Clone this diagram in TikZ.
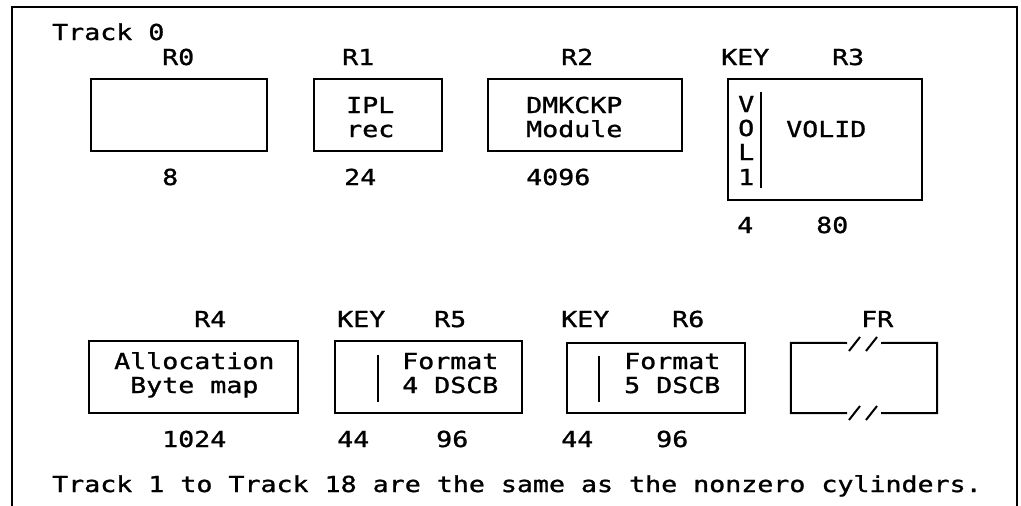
\documentclass[tikz,border=0pt]{standalone}
\usepackage{fontspec}
\newfontfamily\ibm[FakeStretch=1.21,FakeBold=1.2]{DejaVu Sans Mono}
\begin{document}
\begin{tikzpicture}[x=1pt,y=-1pt,
  txt/.style={font=\ibm\fontsize{22}{24.5}\selectfont, inner sep=0pt, anchor=base west},
  rec/.style={draw, line width=2pt, inner sep=0pt},
  frame/.style={line width=2.2pt},
  sep/.style={line width=2pt}]
\useasboundingbox (0,0) rectangle (1021,506);
% outer frame (open at bottom)
\coordinate (fbl) at (12,506);
\coordinate (ftl) at (12,7);
\coordinate (ftr) at (1017,7);
\coordinate (fbr) at (1017,506);
\draw[frame] (fbl) -- (ftl) -- (ftr) -- (fbr);

\node[txt] (t0) at (52,40) {Track 0};

% row 1 boxes
\node[rec, minimum width=176pt, minimum height=72pt] (b0) at (179,115) {};
\node[rec, minimum width=128pt, minimum height=72pt] (b1) at (378,115) {};
\node[rec, minimum width=194pt, minimum height=72pt] (b2) at (585,115) {};
\node[rec, minimum width=194pt, minimum height=121pt] (b3) at (825,139.5) {};
\coordinate (k3t) at (761,92);
\coordinate (k3b) at (761,188);
\draw[sep] (k3t) -- (k3b);

% row 1 labels
\node[txt] (l0) at (162,65) {R0};
\node[txt] (l1) at (342,65) {R1};
\node[txt] (l2) at (561,65) {R2};
\node[txt] (lk3) at (721,65) {KEY};
\node[txt] (l3) at (832,65) {R3};

% row 1 contents
\node[txt] (i1a) at (346,113) {IPL};
\node[txt] (i1b) at (346,137) {rec};
\node[txt] (i2a) at (526,113) {DMKCKP};
\node[txt] (i2b) at (526,137) {Module};
\node[txt] (v1) at (738,112) {V};
\node[txt] (v2) at (738,136) {O};
\node[txt] (v3) at (738,160) {L};
\node[txt] (v4) at (738,185) {1};
\node[txt] (i3) at (786,137) {VOLID};

% row 1 sizes
\node[txt] (n0) at (162,185) {8};
\node[txt] (n1) at (344,185) {24};
\node[txt] (n2) at (526,185) {4096};
\node[txt] (nk3) at (737,233) {4};
\node[txt] (n3) at (816,233) {80};

% row 2 boxes
\node[rec, minimum width=209pt, minimum height=72pt] (b4) at (193.5,377) {};
\node[rec, minimum width=187pt, minimum height=72pt] (b5) at (428.5,377) {};
\node[rec, minimum width=178pt, minimum height=70pt] (b6) at (656,378) {};
\coordinate (k5t) at (378,355);
\coordinate (k5b) at (378,402);
\draw[sep] (k5t) -- (k5b);
\coordinate (k6t) at (599,356);
\coordinate (k6b) at (599,402);
\draw[sep] (k6t) -- (k6b);

% FR box with breaks
\node[minimum width=146pt, minimum height=70pt, inner sep=0pt] (fr) at (864,378) {};
\coordinate (frt1) at (847,343);
\coordinate (frt2) at (881,343);
\coordinate (frb1) at (847,413);
\coordinate (frb2) at (881,413);
\draw[rec] (frt1) -- (fr.north west) -- (fr.south west) -- (frb1);
\draw[rec] (frt2) -- (fr.north east) -- (fr.south east) -- (frb2);
\coordinate (s1a) at (849,351); \coordinate (s1b) at (860,337);
\coordinate (s2a) at (866,351); \coordinate (s2b) at (877,337);
\coordinate (s3a) at (849,420); \coordinate (s3b) at (860,406);
\coordinate (s4a) at (866,420); \coordinate (s4b) at (877,406);
\draw[sep] (s1a) -- (s1b);
\draw[sep] (s2a) -- (s2b);
\draw[sep] (s3a) -- (s3b);
\draw[sep] (s4a) -- (s4b);

% row 2 labels
\node[txt] (l4) at (194,327) {R4};
\node[txt] (lk5) at (337,327) {KEY};
\node[txt] (l5) at (434,327) {R5};
\node[txt] (lk6) at (561,327) {KEY};
\node[txt] (l6) at (672,327) {R6};
\node[txt] (lfr) at (861,327) {FR};

% row 2 contents
\node[txt] (i4a) at (114,369) {Allocation};
\node[txt] (i4b) at (130,393) {Byte map};
\node[txt] (i5a) at (402,369) {Format};
\node[txt] (i5b) at (402,393) {4 DSCB};
\node[txt] (i6a) at (624,369) {Format};
\node[txt] (i6b) at (624,393) {5 DSCB};

% row 2 sizes
\node[txt] (n4) at (162,447) {1024};
\node[txt] (nk5) at (337,447) {44};
\node[txt] (n5) at (436,447) {96};
\node[txt] (nk6) at (561,447) {44};
\node[txt] (n6) at (656,447) {96};

\node[txt] (note) at (52,492) {Track 1 to Track 18 are the same as the nonzero cylinders.};
\end{tikzpicture}
\end{document}
